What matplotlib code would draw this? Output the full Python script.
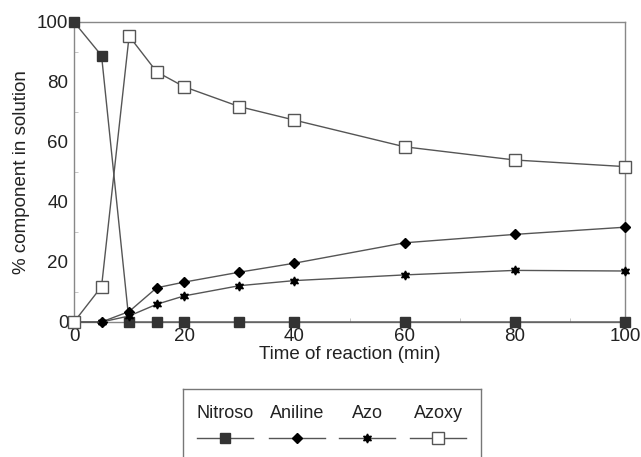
import numpy as np
import matplotlib.pyplot as plt
from matplotlib.ticker import MultipleLocator

plt.rcParams['font.family'] = ['Liberation Sans', 'DejaVu Sans']

# reaction time (min)
t = [0, 5, 10, 15, 20, 30, 40, 60, 80, 100]

# % component in solution
nitroso = [100, 88.8, 0, 0, 0, 0, 0, 0, 0, 0]
aniline = [0, 0, 3.5, 11.4, 13.3, 16.6, 19.6, 26.4, 29.2, 31.6]
azo = [0, 0, 2.0, 5.9, 8.7, 12.1, 13.8, 15.7, 17.2, 17.0]
azoxy = [0, 11.8, 95.3, 83.4, 78.4, 71.8, 67.3, 58.4, 54.0, 51.8]

names = ['Nitroso', 'Aniline', 'Azo', 'Azoxy']
series = [nitroso, aniline, azo, azoxy]

line_col = '#555555'
styles = [
    dict(marker='s', ms=7.5, mfc='#333333', mec='#333333'),
    dict(marker='D', ms=5, mfc='black', mec='black'),
    dict(marker=(6, 1, 0), ms=6.5, mfc='black', mec='black'),
    dict(marker='s', ms=8.5, mfc='white', mec='#555555', mew=1.0),
]

fig = plt.figure(figsize=(6.41, 4.57), dpi=100)
W, H = 641, 457
ax = fig.add_axes([74 / W, 1 - 322 / H, (625 - 74) / W, (322 - 22) / H])

for y, st in zip(series, styles):
    ax.plot(t, y, color=line_col, lw=1.0, clip_on=False, zorder=3, **st)

ax.set_xlim(0, 100)
ax.set_ylim(0, 100)
ax.xaxis.set_major_locator(MultipleLocator(20))
ax.yaxis.set_major_locator(MultipleLocator(20))
ax.xaxis.set_minor_locator(MultipleLocator(10))
ax.yaxis.set_minor_locator(MultipleLocator(10))
ax.tick_params(which='major', length=0, labelsize=13.5, pad=4, colors='#222222')
ax.tick_params(which='minor', direction='in', length=3, color='#bbbbbb')
for s in ax.spines.values():
    s.set_color('#888888')
    s.set_linewidth(1.0)
ax.set_xlabel('Time of reaction (min)', fontsize=13.5, labelpad=1, color='#222222')
ax.set_ylabel('% component in solution', fontsize=13.5, labelpad=5, color='#222222')

# legend box, labels above the line samples
lg = fig.add_axes([183 / W, 1 - 470 / H, (481 - 183) / W, (470 - 389) / H])
lg.set_xlim(183, 481)
lg.set_ylim(470, 389)
lg.set_xticks([])
lg.set_yticks([])
for s in lg.spines.values():
    s.set_color('#777777')
    s.set_linewidth(1.0)
centers = [225, 297, 367, 438]
for c, name, st in zip(centers, names, styles):
    lg.text(c, 413, name, ha='center', va='center', fontsize=13, color='#222222')
    lg.plot([c - 28, c + 28], [438, 438], color=line_col, lw=1.0)
    lg.plot([c], [438], ls='none', **st)

fig.savefig('out.png', dpi=100)
